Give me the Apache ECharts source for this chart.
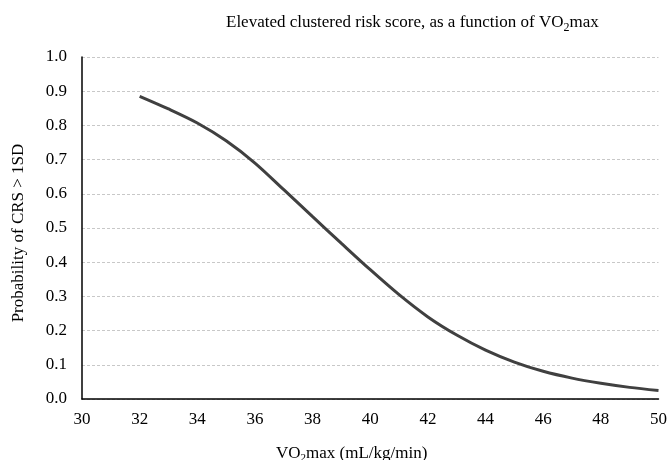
<!DOCTYPE html>
<html><head><meta charset="utf-8">
<script src="https://cdn.jsdelivr.net/npm/echarts@6/dist/echarts.min.js"></script>
<style>html,body{margin:0;padding:0;background:#fff}#c{width:670px;height:460px}</style>
</head><body><div id="c"></div>
<script>
const vo2 = [32,33,34,35,36,37,38,39,40,41,42,43,44,45,46,47,48,49,50];
const prob = [0.885,0.848,0.807,0.755,0.690,0.612,0.533,0.455,0.378,0.305,0.240,0.187,0.143,0.108,0.081,0.061,0.046,0.034,0.025];
const xTicks = {min:30, max:50, interval:2};
const yTicks = {min:0, max:1, interval:0.1};
const FONT = '"Liberation Serif","Times New Roman",serif';
const chart = echarts.init(document.getElementById('c'));
chart.setOption({
  animation:false,
  backgroundColor:'#fff',
  title:[
    {text:'{a|Elevated clustered risk score, as a function of VO}{s|2}{a|max}', left:221, top:7,
     textStyle:{fontWeight:'normal',rich:{a:{fontFamily:FONT,fontSize:17,fontWeight:'normal',color:'#000'}, s:{fontFamily:FONT,fontSize:12,fontWeight:'normal',color:'#000',padding:[10,0,0,0]}}}},
    {text:'{a|VO}{s|2}{a|max (mL/kg/min)}', left:271, top:439,
     textStyle:{fontWeight:'normal',rich:{a:{fontFamily:FONT,fontSize:17,fontWeight:'normal',color:'#000'}, s:{fontFamily:FONT,fontSize:11,fontWeight:'normal',color:'#000',padding:[9,0,0,0]}}}}
  ],
  grid:{left:82, right:11, top:57, bottom:61},
  xAxis:{type:'value', min:xTicks.min, max:xTicks.max, interval:xTicks.interval,
    axisLine:{lineStyle:{color:'#000',width:1.5}}, axisTick:{show:false},
    splitLine:{show:false},
    axisLabel:{fontFamily:FONT,fontSize:17,color:'#000',margin:12}},
  yAxis:{type:'value', min:yTicks.min, max:yTicks.max, interval:yTicks.interval,
    name:'Probability of CRS > 1SD', nameLocation:'middle', nameGap:55,
    nameTextStyle:{fontFamily:FONT,fontSize:17,color:'#000',padding:[0,10,0,0]},
    axisLine:{show:true,lineStyle:{color:'#000',width:1.5}}, axisTick:{show:false},
    splitLine:{lineStyle:{color:'#c8c8c8',type:[3,2],width:1}},
    axisLabel:{fontFamily:FONT,fontSize:17,color:'#000',margin:15,formatter:v=>v.toFixed(1)}},
  series:[{type:'line', data:vo2.map((x,i)=>[x,prob[i]]), smooth:0.3, showSymbol:false,
    lineStyle:{color:'#404040',width:3}}]
});
</script></body></html>
